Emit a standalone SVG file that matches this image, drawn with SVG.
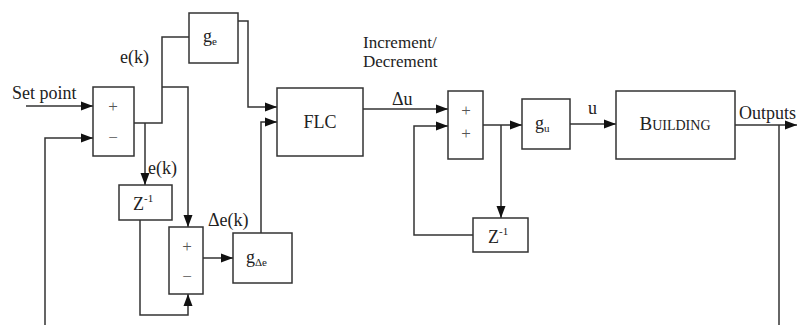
<svg xmlns="http://www.w3.org/2000/svg" width="798" height="325" viewBox="0 0 798 325">
<style>
.box{fill:#fff;stroke:#333;stroke-width:1.5}
.ln{fill:none;stroke:#333;stroke-width:1.5}
.arr{marker-end:url(#ah)}
text{font-family:"Liberation Serif","Times New Roman",serif;fill:#222;font-size:18px}
.c{text-anchor:middle}
.op{font-size:17px;fill:#555;text-anchor:middle}
.sub{font-size:11px}
.sm{font-size:17px}
</style>
<defs>
<marker id="ah" markerUnits="userSpaceOnUse" markerWidth="13" markerHeight="10" refX="12" refY="5" orient="auto">
<path d="M0,0.5 L12,5 L0,9.5 z" fill="#111"/>
</marker>
</defs>
<rect width="798" height="325" fill="#fff"/>

<g id="connectors">
<path class="ln arr" d="M26,106 H93"/>
<path class="ln arr" d="M45,325 V138 H93"/>
<path class="ln" d="M134,123 H162 V37 H189"/>
<path class="ln arr" d="M145,123 V185"/>
<path class="ln arr" d="M162,87 H188 V227"/>
<path class="ln arr" d="M238,21 H248 V107 H277"/>
<path class="ln arr" d="M140,220 V315 H188 V294"/>
<path class="ln arr" d="M203,258 H233"/>
<path class="ln arr" d="M261,233 V122 H277"/>
<path class="ln arr" d="M363,109 H448"/>
<path class="ln arr" d="M483,125 H522"/>
<path class="ln arr" d="M501,125 V218"/>
<path class="ln arr" d="M473,235 H414 V126 H448"/>
<path class="ln arr" d="M570,124 H616"/>
<path class="ln arr" d="M735,125 H797"/>
<path class="ln" d="M779,125 V325"/>
</g>

<g id="labels">
<text x="12" y="99">Set point</text>
<text x="120" y="63">e(k)</text>
<text x="148" y="174">e(k)</text>
<text x="208" y="226">Δe(k)</text>
<text class="sm" x="363" y="48">Increment/</text>
<text class="sm" x="363" y="67">Decrement</text>
<text x="392" y="105">Δu</text>
<text x="588" y="114">u</text>
<text x="739" y="119">Outputs</text>
</g>

<g id="sum1">
<rect class="box" x="93" y="87" width="41" height="69"/>
<text class="op" x="113" y="112">+</text>
<text class="op" x="113" y="143">−</text>
</g>

<g id="ge">
<rect class="box" x="189" y="13" width="49" height="50"/>
<text x="203" y="42">g<tspan class="sub" dy="3">e</tspan></text>
</g>

<g id="z1">
<rect class="box" x="119" y="185" width="53" height="35"/>
<text x="133" y="210">Z<tspan class="sub" dy="-8">-1</tspan></text>
</g>

<g id="sum2">
<rect class="box" x="169" y="227" width="34" height="67"/>
<text class="op" x="187" y="252">+</text>
<text class="op" x="187" y="282">−</text>
</g>

<g id="gde">
<rect class="box" x="233" y="233" width="59" height="50"/>
<text x="246" y="263">g<tspan class="sub" dy="3">Δe</tspan></text>
</g>

<g id="flc">
<rect class="box" x="277" y="88" width="86" height="68"/>
<text class="c" x="320" y="128">FLC</text>
</g>

<g id="sum3">
<rect class="box" x="448" y="91" width="35" height="68"/>
<text class="op" x="466" y="116">+</text>
<text class="op" x="466" y="139">+</text>
</g>

<g id="z2">
<rect class="box" x="473" y="218" width="55" height="34"/>
<text x="488" y="243">Z<tspan class="sub" dy="-8">-1</tspan></text>
</g>

<g id="gu">
<rect class="box" x="522" y="99" width="48" height="50"/>
<text x="535" y="129">g<tspan class="sub" dy="3">u</tspan></text>
</g>

<g id="building">
<rect class="box" x="616" y="91" width="119" height="68"/>
<text class="c" x="675" y="130" style="font-size:19px">B<tspan style="font-size:14px">UILDING</tspan></text>
</g>
</svg>
